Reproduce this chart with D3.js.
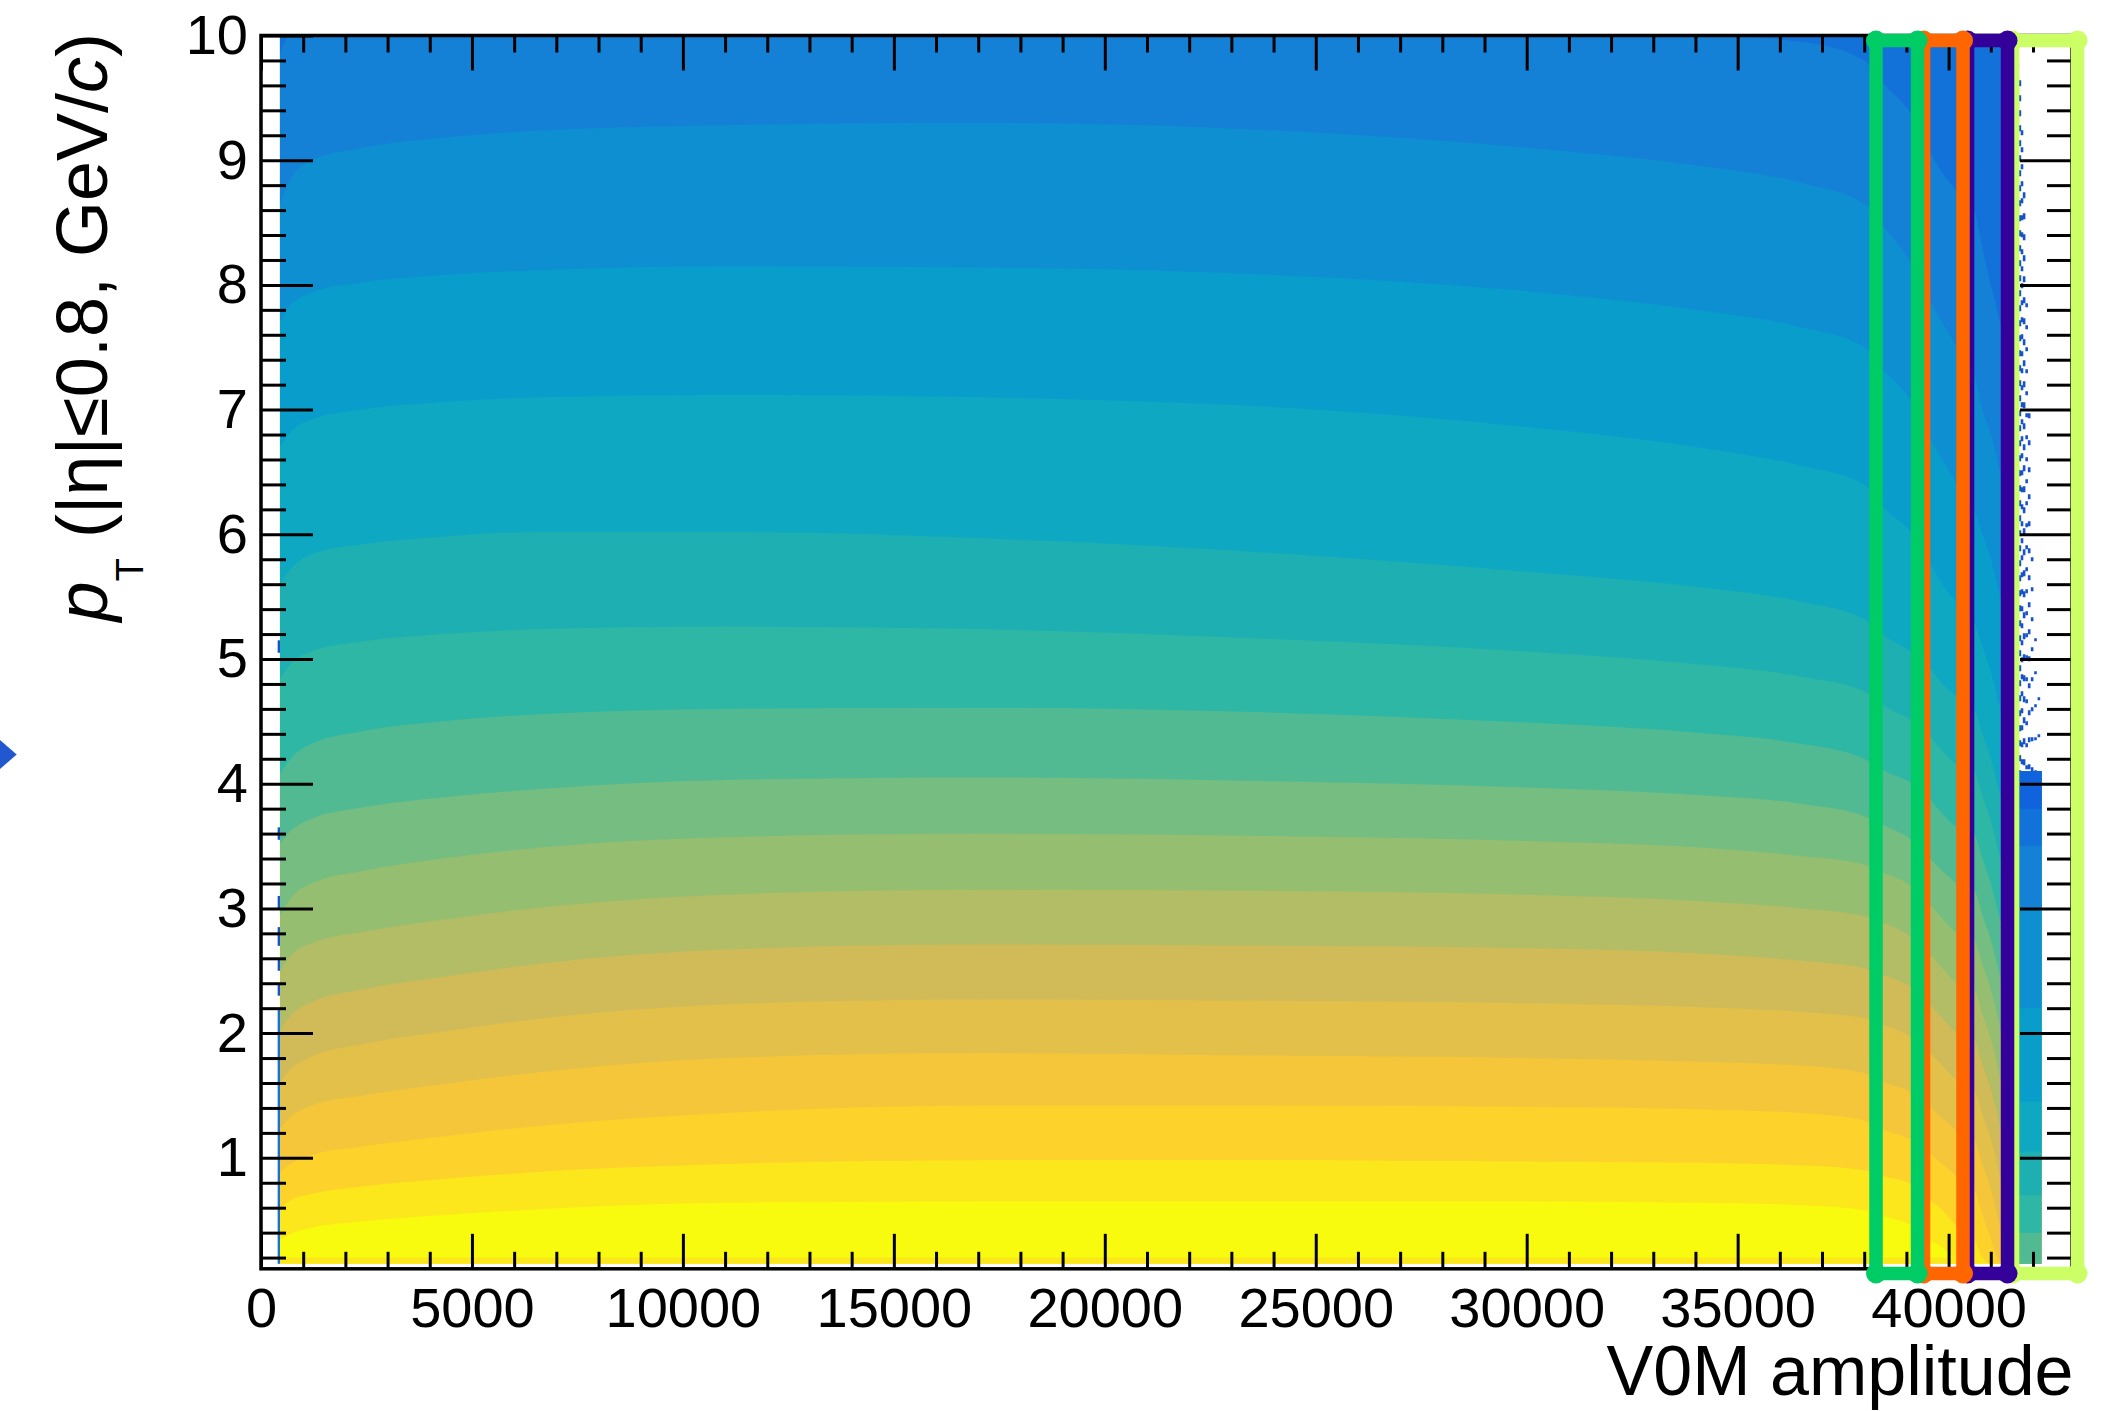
<!DOCTYPE html>
<html>
<head>
<meta charset="utf-8">
<script src="https://cdn.jsdelivr.net/npm/d3@7"></script>
<style>
  html, body { margin: 0; padding: 0; background: #ffffff; }
  svg { display: block; }
</style>
</head>
<body>
<svg id="chart" width="2111" height="1411"></svg>
<script>
// ---------------------------------------------------------------------------
// 2D histogram: charged-particle pT (|eta|<0.8) vs V0M amplitude, log colour
// scale with 20 contour levels. Each array below holds, at the V0M sample
// points, the upper pT edge of one colour level (level 19 = highest yield).
// ---------------------------------------------------------------------------

const v0mPoints = [450, 700, 1200, 2400, 4300, 6700, 11000, 17000, 24000, 30000,
  34000, 36500, 38000, 38500, 39150, 39500, 39850, 40200, 40600, 40800,
  41000, 41150, 41300, 41650, 42200];

const topOfLevel19 = [0.34,0.39,0.44,0.49,0.54,0.59,0.64,0.65,0.65,0.65,0.64,0.62,0.58,0.53,0.45,0.35,0.28,0.18,0.15,0.15,0.15,0.15,0.15,0.15,0.15];
const topOfLevel18 = [0.60,0.66,0.71,0.77,0.83,0.89,0.95,0.98,0.98,0.97,0.96,0.94,0.90,0.85,0.78,0.68,0.58,0.45,0.35,0.20,0.15,0.15,0.15,0.15,0.15];
const topOfLevel17 = [0.88,0.95,1.02,1.09,1.17,1.26,1.36,1.42,1.42,1.41,1.39,1.36,1.30,1.22,1.14,1.05,0.95,0.85,0.75,0.55,0.35,0.20,0.15,0.15,0.15];
const topOfLevel16 = [1.24,1.33,1.42,1.50,1.59,1.69,1.80,1.84,1.82,1.80,1.77,1.74,1.68,1.60,1.52,1.42,1.32,1.22,1.15,0.95,0.75,0.55,0.35,0.15,0.15];
const topOfLevel15 = [1.60,1.71,1.81,1.91,2.01,2.12,2.23,2.27,2.26,2.24,2.21,2.17,2.12,2.06,1.96,1.86,1.74,1.62,1.55,1.35,1.15,0.95,0.70,0.15,0.15];
const topOfLevel14 = [2.02,2.14,2.25,2.35,2.45,2.56,2.67,2.71,2.70,2.68,2.64,2.58,2.52,2.46,2.36,2.25,2.12,2.00,1.95,1.75,1.55,1.35,1.10,0.15,0.15];
const topOfLevel13 = [2.50,2.62,2.72,2.81,2.91,3.01,3.11,3.15,3.14,3.11,3.06,3.00,2.94,2.88,2.76,2.65,2.52,2.40,2.35,2.15,1.95,1.75,1.50,0.15,0.15];
const topOfLevel12 = [2.94,3.08,3.20,3.30,3.40,3.49,3.57,3.60,3.58,3.54,3.49,3.42,3.35,3.28,3.17,3.05,2.92,2.80,2.75,2.55,2.35,2.15,1.90,0.15,0.15];
const topOfLevel11 = [3.52,3.62,3.72,3.81,3.89,3.96,4.03,4.05,4.02,3.97,3.91,3.84,3.74,3.66,3.54,3.42,3.30,3.20,3.15,2.95,2.75,2.55,2.30,0.15,0.15];
const topOfLevel10 = [4.08,4.20,4.32,4.42,4.50,4.56,4.60,4.61,4.57,4.49,4.41,4.32,4.20,4.10,4.00,3.90,3.76,3.65,3.60,3.40,3.20,3.00,2.75,0.40,0.40];
const topOfLevel9  = [4.84,4.96,5.06,5.14,5.20,5.24,5.26,5.24,5.16,5.06,4.96,4.86,4.74,4.62,4.50,4.40,4.26,4.15,4.10,3.90,3.70,3.50,3.25,0.70,0.70];
const topOfLevel8  = [5.60,5.72,5.84,5.92,5.98,6.02,6.02,5.97,5.85,5.70,5.58,5.46,5.32,5.18,5.05,4.95,4.80,4.70,4.60,4.40,4.20,4.00,3.75,1.05,1.05];
const topOfLevel7  = [6.70,6.82,6.92,7.00,7.06,7.10,7.12,7.10,7.02,6.86,6.70,6.55,6.40,6.20,6.00,5.80,5.60,5.45,5.30,5.10,4.90,4.70,4.45,1.45,1.45];
const topOfLevel6  = [7.70,7.84,7.94,8.02,8.08,8.12,8.15,8.14,8.08,7.95,7.80,7.66,7.50,7.30,7.05,6.80,6.60,6.40,6.20,6.00,5.80,5.60,5.30,2.20,2.20];
const topOfLevel5  = [8.65,8.85,9.00,9.10,9.18,9.24,9.28,9.30,9.24,9.10,8.96,8.82,8.65,8.45,8.15,7.90,7.70,7.50,7.30,7.00,6.80,6.60,6.30,3.00,3.00];
const topOfLevel4  = [9.85,10,10,10,10,10,10,10,10,10,10,9.95,9.80,9.60,9.35,9.10,8.90,8.75,8.60,8.30,8.00,7.80,7.50,3.50,3.50];
const topOfLevel3  = [10,10,10,10,10,10,10,10,10,10,10,10,10,10,10,10,10,10,10,10,10,10,10,3.80,3.80];

// upper pT edge of the densely filled region
const filledTop = [10,10,10,10,10,10,10,10,10,10,10,10,10,10,10,10,10,10,10,10,10,10,10,4.10,4.10];

// lowest pT bin (0.15-0.20 GeV/c), one level below its neighbour
const firstBinV0M = [450, 40200];
const firstBinEdges = [0.15, 0.20];
const firstBinLevel = 18;

// sparsely populated first V0M column (395-450)
const edgeColumnV0M = [395, 450];
const edgeColumnFilled = [0.15, 2.2];
const edgeColumnCells = [[2.30,2.40],[2.50,2.60],[2.70,2.85],[3.00,3.10],[3.55,3.65],[5.05,5.15]];

// scattered high-pT entries in the last V0M columns
const sparseV0M = [41640, 41690, 41740, 41790, 41850, 41910, 41980, 42060, 42140];
const sparseTop = [9.8, 9.7, 9.3, 8.8, 8.0, 7.0, 6.0, 5.2, 4.7];

// highlighted V0M classes (outline extents)
const classLow  = [41516, 40449, 39406, 38280];
const classHigh = [43057, 41397, 40342, 39264];
const classPtRange = [0.072, 9.96];

// axis ticks
const xMajorTicks = [0, 5000, 10000, 15000, 20000, 25000, 30000, 35000, 40000];
const xMinorTicks = d3.range(0, 43000, 1000).filter(v => v % 5000 !== 0);
const yMajorTicks = [1, 2, 3, 4, 5, 6, 7, 8, 9, 10];
const yMinorTicks = d3.range(1, 50).filter(i => i % 5 !== 0).map(i => i / 5);

const pTMin = 0.15;

// ---------------------------------------------------------------------------
const svg = d3.select('#chart');
const FONT = '"Liberation Sans", Arial, Helvetica, sans-serif';

const x = d3.scaleLinear().domain([0, 42925]).range([261, 2072]);
const y = d3.scaleLinear().domain([0.11, 10]).range([1268.8, 35.5]);

// ROOT kBird palette
const birdStops = [0, 0.125, 0.25, 0.375, 0.5, 0.625, 0.75, 0.875, 1];
const birdR = [0.2082, 0.0592, 0.0780, 0.0232, 0.1802, 0.5301, 0.8186, 0.9956, 0.9764];
const birdG = [0.1664, 0.3599, 0.5041, 0.6419, 0.7178, 0.7492, 0.7328, 0.7862, 0.9832];
const birdB = [0.5293, 0.8684, 0.8385, 0.7914, 0.6425, 0.4662, 0.3499, 0.1968, 0.0539];
const bird = d3.scaleLinear()
  .domain(birdStops)
  .range(birdStops.map((s, i) => d3.rgb(birdR[i] * 255, birdG[i] * 255, birdB[i] * 255).toString()))
  .interpolate(d3.interpolateRgb);
const nLevels = 20;
const levelColor = k => bird((k + 1) / nLevels);

// ---------------------------------------------------------------------------
// colour bands, painted from the highest level upwards
const pts = v0mPoints.map((v, i) => ({ v, i }));
const heat = svg.append('g');

const band = lower => d3.area()
  .curve(d3.curveMonotoneX)
  .x(d => x(d.v))
  .y0(d => y(lower ? lower[d.i] : pTMin))
  .y1(d => y(filledTop[d.i]));

heat.append('path').attr('d', band(null)(pts)).attr('fill', levelColor(19));

const levelTops = [
  [19, topOfLevel19], [18, topOfLevel18], [17, topOfLevel17], [16, topOfLevel16],
  [15, topOfLevel15], [14, topOfLevel14], [13, topOfLevel13], [12, topOfLevel12],
  [11, topOfLevel11], [10, topOfLevel10], [9, topOfLevel9], [8, topOfLevel8],
  [7, topOfLevel7], [6, topOfLevel6], [5, topOfLevel5], [4, topOfLevel4], [3, topOfLevel3]
];
levelTops.forEach(([k, tops]) => {
  heat.append('path').attr('d', band(tops)(pts)).attr('fill', levelColor(k - 1));
});

// lowest pT bin row
heat.append('rect')
  .attr('x', x(firstBinV0M[0]))
  .attr('width', x(firstBinV0M[1]) - x(firstBinV0M[0]))
  .attr('y', y(firstBinEdges[1]))
  .attr('height', y(firstBinEdges[0]) - y(firstBinEdges[1]))
  .attr('fill', levelColor(firstBinLevel));

// first, sparsely filled V0M column
heat.append('rect')
  .attr('x', x(edgeColumnV0M[0]))
  .attr('width', x(edgeColumnV0M[1]) - x(edgeColumnV0M[0]))
  .attr('y', y(edgeColumnFilled[1]))
  .attr('height', y(edgeColumnFilled[0]) - y(edgeColumnFilled[1]))
  .attr('fill', levelColor(3));
heat.selectAll('rect.edgecell')
  .data(edgeColumnCells)
  .join('rect')
  .attr('class', 'edgecell')
  .attr('x', x(edgeColumnV0M[0]))
  .attr('width', x(edgeColumnV0M[1]) - x(edgeColumnV0M[0]))
  .attr('y', d => y(d[1]))
  .attr('height', d => y(d[0]) - y(d[1]))
  .attr('fill', levelColor(1));

// scattered entries at the highest V0M
const dashPatterns = ['7 6', '6 9', '5 12', '6 15', '4 18', '5 22', '4 26', '3 30', '3 34'];
sparseV0M.forEach((v, i) => {
  heat.append('line')
    .attr('x1', x(v)).attr('x2', x(v))
    .attr('y1', y(filledTop[filledTop.length - 1])).attr('y2', y(sparseTop[i]))
    .attr('stroke', levelColor(1))
    .attr('stroke-width', 2.6)
    .attr('stroke-dasharray', dashPatterns[i])
    .attr('stroke-dashoffset', i * 5);
});

// ---------------------------------------------------------------------------
// frame and ticks (ticks point inwards on all four sides)
const [x0, x1] = x.range();
const [yb, yt] = y.range();

function styleAxis(g) {
  g.select('.domain').remove();
  g.selectAll('.tick line').attr('stroke', '#000').attr('stroke-width', 3);
  g.selectAll('.tick text')
    .attr('fill', '#000')
    .attr('font-family', FONT)
    .attr('font-size', 56);
  g.attr('font-family', null).attr('font-size', null);
}

svg.append('g').attr('transform', `translate(0,${yb})`)
  .call(d3.axisBottom(x).tickValues(xMinorTicks).tickSize(-17).tickFormat(''))
  .call(styleAxis);
svg.append('g').attr('transform', `translate(0,${yb})`)
  .call(d3.axisBottom(x).tickValues(xMajorTicks).tickSize(-35).tickPadding(18).tickFormat(d3.format('d')))
  .call(styleAxis);
svg.append('g').attr('transform', `translate(0,${yt})`)
  .call(d3.axisTop(x).tickValues(xMinorTicks).tickSize(-17).tickFormat(''))
  .call(styleAxis);
svg.append('g').attr('transform', `translate(0,${yt})`)
  .call(d3.axisTop(x).tickValues(xMajorTicks).tickSize(-35).tickFormat(''))
  .call(styleAxis);

svg.append('g').attr('transform', `translate(${x0},0)`)
  .call(d3.axisLeft(y).tickValues(yMinorTicks).tickSize(-25).tickFormat(''))
  .call(styleAxis);
svg.append('g').attr('transform', `translate(${x0},0)`)
  .call(d3.axisLeft(y).tickValues(yMajorTicks).tickSize(-52).tickPadding(13).tickFormat(d3.format('d')))
  .call(styleAxis);
svg.append('g').attr('transform', `translate(${x1},0)`)
  .call(d3.axisRight(y).tickValues(yMinorTicks).tickSize(-25).tickFormat(''))
  .call(styleAxis);
svg.append('g').attr('transform', `translate(${x1},0)`)
  .call(d3.axisRight(y).tickValues(yMajorTicks).tickSize(-52).tickFormat(''))
  .call(styleAxis);

svg.append('rect')
  .attr('x', x0).attr('y', yt)
  .attr('width', x1 - x0).attr('height', yb - yt)
  .attr('fill', 'none').attr('stroke', '#000').attr('stroke-width', 3.5);

// axis titles
svg.append('text')
  .attr('x', 2073.5).attr('y', 1395)
  .attr('text-anchor', 'end')
  .attr('font-family', FONT).attr('font-size', 70)
  .text('V0M amplitude');

const yTitle = svg.append('text')
  .attr('transform', 'translate(107,33) rotate(-90)')
  .attr('text-anchor', 'end')
  .attr('font-family', FONT).attr('font-size', 72);
yTitle.append('tspan').attr('font-style', 'italic').text('p');
yTitle.append('tspan').attr('font-size', 38).attr('dy', 36).text('T');
yTitle.append('tspan').attr('dy', -36).text(' (|\u03B7|\u22640.8, GeV/');
yTitle.append('tspan').attr('font-style', 'italic').text('c');
yTitle.append('tspan').text(')');

// ---------------------------------------------------------------------------
// hand-drawn outlines around the highest-multiplicity V0M classes
const outlineColors = ['#ccff66', '#330099', '#ff6600', '#00cc66'];
const oTop = y(classPtRange[1]);
const oBot = y(classPtRange[0]);
classLow.forEach((lo, i) => {
  const xl = x(lo), xr = x(classHigh[i]);
  const g = svg.append('g');
  g.append('rect')
    .attr('x', xl).attr('y', oTop)
    .attr('width', xr - xl).attr('height', oBot - oTop)
    .attr('rx', 6).attr('ry', 6)
    .attr('fill', 'none')
    .attr('stroke', outlineColors[i])
    .attr('stroke-width', 13.5)
    .attr('stroke-linejoin', 'round');
  [[xl, oTop], [xr, oTop], [xl, oBot], [xr, oBot]].forEach(([cx, cy]) => {
    g.append('circle').attr('cx', cx).attr('cy', cy).attr('r', 10).attr('fill', outlineColors[i]);
  });
});

// pointer arrow at the left margin
svg.append('path')
  .attr('d', d3.line()([[0, 740], [16.7, 754.5], [0, 769]]) + 'Z')
  .attr('fill', '#2258cf');
</script>
</body>
</html>
